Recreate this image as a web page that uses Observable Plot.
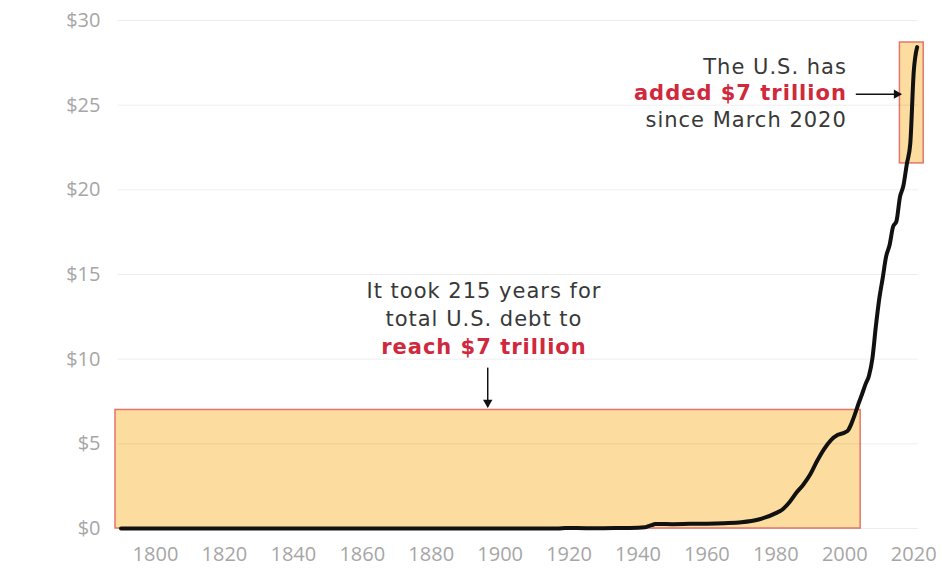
<!DOCTYPE html>
<html>
<head>
<meta charset="utf-8">
<script src="https://cdn.jsdelivr.net/npm/d3@7"></script>
<script src="https://cdn.jsdelivr.net/npm/@observablehq/plot@0.6"></script>
<style>
  html, body { margin: 0; padding: 0; background: #fff; }
  .note text { letter-spacing: 1px; }
</style>
</head>
<body>
<div id="chart"></div>
<script>
// Total U.S. debt, trillions of dollars
const years = [1790, 1800, 1810, 1820, 1830, 1840, 1850, 1860, 1863, 1866, 1870, 1880, 1890, 1900, 1910, 1916, 1917, 1919, 1925, 1930, 1935, 1940, 1942, 1943, 1944, 1945, 1946, 1950, 1955, 1960, 1965, 1970, 1975, 1980, 1982, 1984, 1986, 1988, 1990, 1992, 1994, 1996, 1998, 2000, 2001, 2002, 2003, 2004, 2005, 2006, 2007, 2008, 2009, 2010, 2011, 2012, 2013, 2014, 2015, 2016, 2017, 2018, 2019, 2020, 2021];
const debt  = [0.00007, 0.00008, 0.00005, 0.00009, 0.00005, 0.000004, 0.00006, 0.00006, 0.0011, 0.0028, 0.0024, 0.0021, 0.0012, 0.0021, 0.0011, 0.0012, 0.003, 0.025, 0.021, 0.016, 0.029, 0.043, 0.072, 0.137, 0.201, 0.259, 0.269, 0.257, 0.274, 0.286, 0.317, 0.371, 0.533, 0.908, 1.14, 1.57, 2.12, 2.6, 3.2, 4.0, 4.69, 5.22, 5.53, 5.67, 5.81, 6.23, 6.78, 7.38, 7.93, 8.51, 9.01, 10.02, 11.91, 13.56, 14.79, 16.07, 16.74, 17.82, 18.15, 19.57, 20.24, 21.52, 22.72, 26.95, 28.43];

const xTicks = [1800, 1820, 1840, 1860, 1880, 1900, 1920, 1940, 1960, 1980, 2000, 2020];
const yTicks = [0, 5, 10, 15, 20, 25, 30];
const gridFrom = 1789.2;
const gridTo = 2021.4;

// highlight boxes (years, trillions)
const boxX1 = [1788.4, 2016.0];
const boxX2 = [2004.6, 2022.9];
const boxY1 = [0, 21.56];
const boxY2 = [7, 28.7];

// annotation 1
const note1Lines = ["It took 215 years for", "total U.S. debt to", "reach $7 trillion"];
const note1Bold = [false, false, true];
const note1X = 1895.3;
const note1Y = [14.0, 12.35, 10.7];
const arrow1 = {x: 1896.4, y1: 9.5, y2: 7.2};

// annotation 2
const note2Lines = ["The U.S. has", "added $7 trillion", "since March 2020"];
const note2Bold = [false, true, false];
const note2X = 2000.6;
const note2Y = [27.25, 25.72, 24.1];
const arrow2 = {y: 25.65, x1: 2003.2, x2: 2016.2};

const series = years.map((y, i) => ({year: y, debt: debt[i]}));
const boxes = boxX1.map((x, i) => ({x1: x, x2: boxX2[i], y1: boxY1[i], y2: boxY2[i]}));
const notes1 = note1Lines.map((t, i) => ({text: t, bold: note1Bold[i], x: note1X, y: note1Y[i]}));
const notes2 = note2Lines.map((t, i) => ({text: t, bold: note2Bold[i], x: note2X, y: note2Y[i]}));

const dark = "#383838";
const red = "#d0283c";
const noteFont = "'DejaVu Sans', sans-serif";

function noteMarks(data, anchor) {
  return [
    Plot.text(data.filter(d => !d.bold), {x: "x", y: "y", text: "text", textAnchor: anchor, fontSize: 21,
      fontFamily: noteFont, fill: dark, fontWeight: 400, className: "note"}),
    Plot.text(data.filter(d => d.bold), {x: "x", y: "y", text: "text", textAnchor: anchor, fontSize: 21,
      fontFamily: noteFont, fill: red, fontWeight: 700, className: "note"})
  ];
}

const chart = Plot.plot({
  width: 942,
  height: 569,
  marginLeft: 115,
  marginRight: 15,
  marginTop: 20,
  marginBottom: 41,
  style: {fontFamily: "'Open Sans', sans-serif", fontSize: "20px", background: "#fff"},
  x: {domain: [1788.4, 2024], label: null},
  y: {domain: [0, 30], label: null},
  marks: [
    Plot.rect(boxes, {x1: "x1", x2: "x2", y1: "y1", y2: "y2", fill: "#fcdc9f", stroke: "#e2766a", strokeWidth: 1.5}),
    Plot.ruleY(yTicks, {x1: gridFrom, x2: gridTo, stroke: "#000", strokeOpacity: 0.07, strokeWidth: 1}),
    Plot.axisY({ticks: yTicks, tickFormat: d => "$" + d, tickSize: 0, tickPadding: 15, fill: "#a6a6a6", fontSize: 20, label: null}),
    Plot.axisX({ticks: xTicks, tickFormat: d => String(d), tickSize: 0, tickPadding: 18, fill: "#a6a6a6", fontSize: 20, label: null}),
    Plot.line(series, {x: "year", y: "debt", stroke: "#111", strokeWidth: 4, curve: "monotone-x", strokeLinejoin: "round", strokeLinecap: "round"}),
    ...noteMarks(notes1, "middle"),
    ...noteMarks(notes2, "end"),
    Plot.link([arrow1], {x1: "x", x2: "x", y1: "y1", y2: "y2", stroke: "#111", strokeWidth: 1.5}),
    Plot.dot([arrow1], {x: "x", y: "y2", symbol: "triangle2", r: 4.5, fill: "#111", rotate: 180, dy: -4}),
    Plot.link([arrow2], {x1: "x1", x2: "x2", y1: "y", y2: "y", stroke: "#111", strokeWidth: 1.5}),
    Plot.dot([arrow2], {x: "x2", y: "y", symbol: "triangle2", r: 4.5, fill: "#111", rotate: 90, dx: -4})
  ]
});
document.getElementById("chart").appendChild(chart);
</script>
</body>
</html>
